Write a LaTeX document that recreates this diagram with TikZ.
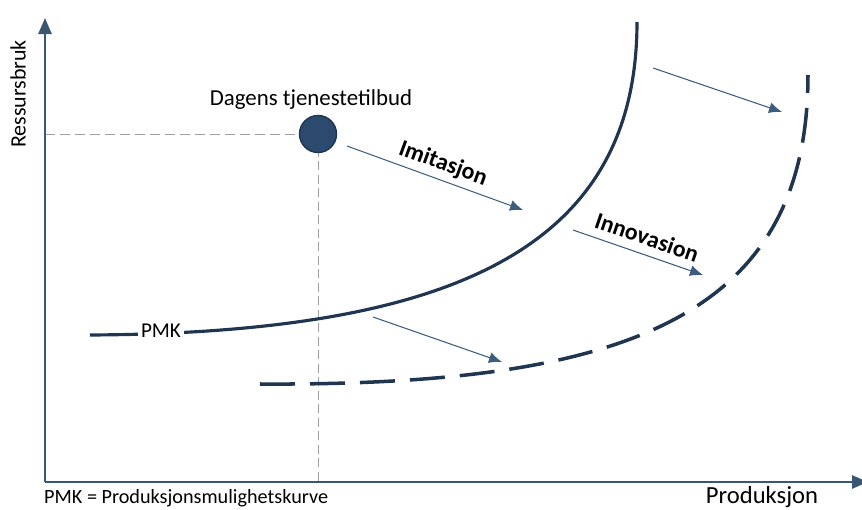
\documentclass[tikz,border=0pt]{standalone}
\usepackage{fontspec}
\setmainfont{Carlito}
\usetikzlibrary{arrows.meta}

\definecolor{axisblue}{HTML}{3B5675}
\definecolor{curveblue}{HTML}{1F3550}
\definecolor{arrowblue}{HTML}{3D5C80}
\definecolor{dotblue}{HTML}{2C4A6E}

\tikzset{
    axisline/.style={draw=axisblue, line width=1.6pt, -{Triangle[length=3.2mm,width=2.6mm]}},
    guide/.style={draw=gray!75, line width=0.5pt, dash pattern=on 2mm off 1mm},
    pmkline/.style={draw=curveblue, line width=1.8pt},
    newpmkline/.style={draw=curveblue, line width=2pt, dash pattern=on 7mm off 3mm},
    shiftarrow/.style={draw=arrowblue, line width=0.6pt, -{Latex[length=2.6mm,width=2.2mm]}},
    txt/.style={font=\fontsize{12}{14}\selectfont},
    boldtxt/.style={font=\fontsize{13.5}{15}\selectfont\bfseries}
}

\begin{document}
\begin{tikzpicture}[x=0.2mm, y=-0.2mm]
    \useasboundingbox (0,0) rectangle (862,510);
    \clip (0,0) rectangle (862,510);

    \coordinate (O) at (45,482);
    \coordinate (ytop) at (45,18);
    \coordinate (xend) at (868,482);
    \coordinate (yproj) at (45,134);
    \coordinate (xproj) at (318,482);

    \draw[guide] (yproj) -- (318,134);
    \draw[guide, dash pattern=on 1.8mm off 0.9mm] (318,134) -- (xproj);

    \path[axisline] (O) -- (ytop);
    \path[axisline] (O) -- (xend);

    \node[shape=circle, fill=dotblue, draw=curveblue, line width=0.8pt, minimum size=7.4mm, inner sep=0pt] (dagens) at (318,134) {};
    \node[txt, font=\fontsize{13}{15}\selectfont] (dagenstxt) at (311,100) {Dagens tjenestetilbud};

    % produksjonsmulighetskurver
    \coordinate (pmkA) at (90,335);
    \coordinate (pmkB) at (637,22);
    \coordinate (nyA) at (260,384);
    \coordinate (nyB) at (808,75);
    \draw[pmkline] (pmkA) .. controls (450,333) and (637,250) .. (pmkB);
    \draw[newpmkline] (nyA) .. controls (620,386) and (808,320) .. (nyB);

    \node[txt, fill=white, inner sep=1.5pt] (pmk) at (161,331) {PMK};

    \coordinate (imA) at (347,146);
    \coordinate (imB) at (523,210);
    \coordinate (topA) at (653,68);
    \coordinate (topB) at (782,112);
    \coordinate (inA) at (573,230);
    \coordinate (inB) at (703,275);
    \coordinate (lowA) at (373,317);
    \coordinate (lowB) at (502,362);

    \path (imA) edge[shiftarrow] (imB);
    \path (topA) edge[shiftarrow] (topB);
    \path (inA) edge[shiftarrow] (inB);
    \path (lowA) edge[shiftarrow] (lowB);

    \node[boldtxt, rotate=-20] (imitasjon) at (443,164) {Imitasjon};
    \node[boldtxt, rotate=-19] (innovasjon) at (647,237) {Innovasion};

    \node[txt, rotate=90, font=\fontsize{12.5}{14}\selectfont] (ressurs) at (18,94) {Ressursbruk};
    \node[txt, anchor=west, font=\fontsize{11.5}{14}\selectfont] (forklaring) at (38,498) {PMK = Produksjonsmulighetskurve};
    \node[txt, font=\fontsize{14}{16}\selectfont] (produksjon) at (762,497) {Produksjon};
\end{tikzpicture}
\end{document}
